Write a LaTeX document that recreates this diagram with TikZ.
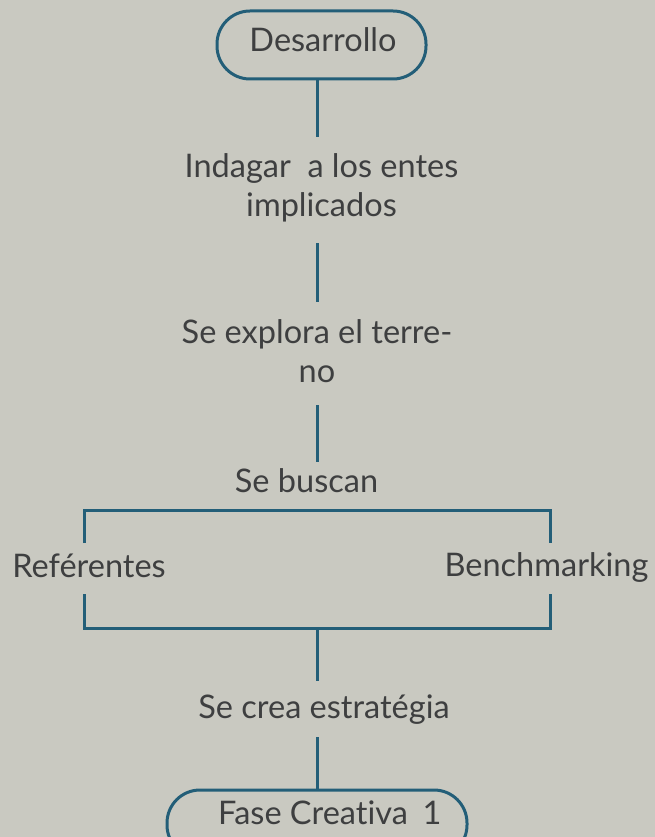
\documentclass[tikz,border=0pt]{standalone}
\usepackage{fontspec}
\setmainfont{Lato}[Ligatures={NoCommon}]
\definecolor{bg}{HTML}{C9C9C1}
\definecolor{ln}{HTML}{235E78}
\definecolor{tx}{HTML}{3E3F40}
\tikzset{
  lbl/.style={anchor=base, text=tx, inner sep=0pt, font=\fontsize{32.5}{38}\selectfont},
  pill/.style={draw=ln, line width=3pt, rounded corners=33pt},
  conn/.style={draw=ln, line width=3pt}
}
\begin{document}
\begin{tikzpicture}[x=1pt,y=-1pt]
\useasboundingbox[fill=bg] (0,0) rectangle (655,837);
\begin{scope}
\clip (0,0) rectangle (655,837);
% top pill
\draw[pill] (217,11) rectangle (426,79);
\node[lbl] (des) at (323,52) {Desarrollo};
\coordinate (desb) at (317,79);
\coordinate (a1) at (317,137);
\node[lbl] (ind1) at (321.5,178) {Indagar\ \ a los entes};
\node[lbl] (ind2) at (321.5,216) {implicados};
\coordinate (a2) at (317,243);
\coordinate (a3) at (317,302);
\node[lbl] (exp1) at (317,343) {Se explora el terre-};
\node[lbl] (exp2) at (317,382) {no};
\coordinate (a4) at (317,405);
\coordinate (a5) at (317,462);
\node[lbl] (bus) at (306.5,492) {Se buscan};
\coordinate (bl) at (84,510);
\coordinate (br) at (550,510);
\coordinate (blm) at (84,543);
\coordinate (brm) at (550,543);
\node[lbl] (ref) at (89,577) {Reférentes};
\node[lbl] (ben) at (546.5,576) {Benchmarking};
\coordinate (bl2) at (84,594);
\coordinate (br2) at (550,594);
\coordinate (bl3) at (84,628);
\coordinate (br3) at (550,628);
\coordinate (bm3) at (317,628);
\coordinate (a6) at (317,681);
\node[lbl] (est) at (324,718) {Se crea estratégia};
\coordinate (a7) at (317,737);
\coordinate (a8) at (317,790);
% bottom pill
\draw[pill] (167,790) rectangle (467,858);
\node[lbl] (fas) at (313,824) {Fase Creativa};
\node[lbl] (one) at (432,824) {1};
% connectors
\draw[conn] (desb) -- (a1);
\draw[conn] (a2) -- (a3);
\draw[conn] (a4) -- (a5);
\draw[conn] (blm) -- (bl) -- (br) -- (brm);
\draw[conn] (bl2) -- (bl3) -- (br3) -- (br2);
\draw[conn] (bm3) -- (a6);
\draw[conn] (a7) -- (a8);
\end{scope}
\end{tikzpicture}
\end{document}
